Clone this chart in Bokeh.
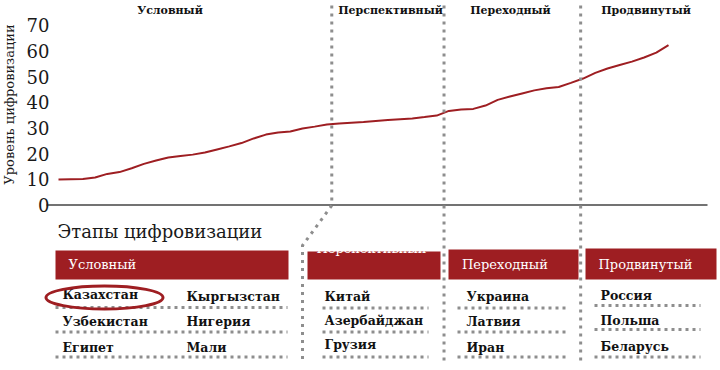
import math
from bokeh.plotting import figure
from bokeh.models import Range1d, FixedTicker, Label
from bokeh.embed import file_html
from bokeh.resources import INLINE
from bokeh.core.properties import value

# ---------------- data ----------------
# digitalisation level of countries, sorted by rank
scores = [9.9, 10.0, 10.1, 10.7, 12.1, 12.8, 14.3, 16.0, 17.3, 18.5,
          19.1, 19.6, 20.4, 21.6, 22.8, 24.1, 25.9, 27.4, 28.2, 28.6,
          29.8, 30.5, 31.3, 31.7, 32.0, 32.3, 32.7, 33.1, 33.4, 33.7,
          34.2, 34.8, 36.6, 37.2, 37.4, 38.7, 40.9, 42.2, 43.4, 44.6,
          45.4, 45.9, 47.5, 49.2, 51.4, 53.1, 54.5, 55.8, 57.4, 59.3, 62.2]
rank = list(range(len(scores)))
y_ticks = [0, 10, 20, 30, 40, 50, 60, 70]
y_label = "Уровень цифровизации"

stages = ["Условный", "Перспективный", "Переходный", "Продвинутый"]
stage_boundaries = [22.4, 31.6, 42.8]      # rank positions where stage changes

table_title = "Этапы цифровизации"
conditional = ["Казахстан", "Узбекистан", "Египет", "Кыргызстан", "Нигерия", "Мали"]
perspective = ["Китай", "Азербайджан", "Грузия"]
transitional = ["Украина", "Латвия", "Иран"]
advanced = ["Россия", "Польша", "Беларусь"]
highlighted = "Казахстан"

# ---------------- layout helpers (image pixel -> data) ----------------
X0, XS = 58.0, 12.2     # pixel of rank 0, pixels per rank
Y0, YS = 204.5, 2.57    # pixel of value 0, pixels per unit
W, H, LEFT = 720, 370, 0


def dx(px):
    return (px - X0) / XS


def dy(py):
    return (Y0 - py) / YS


RED = "#9E1E22"
GREY = "#8E8E8E"
SERIF = value("DejaVu Serif")

p = figure(width=W, height=H, output_backend="svg", toolbar_location=None,
           x_range=Range1d(dx(LEFT), dx(W)), y_range=Range1d(dy(H), dy(0)),
           x_axis_type=None, min_border_left=LEFT, min_border_right=0,
           min_border_top=0, min_border_bottom=0)
p.outline_line_color = None
p.xgrid.visible = False
p.ygrid.visible = False

ax = p.yaxis[0]
ax.ticker = FixedTicker(ticks=y_ticks)
ax.axis_line_color = None
ax.major_tick_line_color = None
ax.minor_tick_line_color = None
ax.major_label_standoff = -55
ax.major_label_text_font = "DejaVu Serif"
ax.major_label_text_font_size = "18px"
ax.major_label_text_color = "#1a1a1a"

p.add_layout(Label(x=dx(9), y=dy(104), text=y_label, angle=math.pi / 2,
                   text_font="DejaVu Serif", text_font_size="13px",
                   text_align="center", text_baseline="middle",
                   text_color="#1a1a1a"))

# baseline at 0
p.segment(x0=[dx(46)], x1=[dx(707)], y0=[y_ticks[0]], y1=[y_ticks[0]],
          line_color="#444444", line_width=1.5)

# curve
p.line(rank, scores, line_color=RED, line_width=2)

# stage names above chart
p.text(x=[dx(169.5), dx(390), dx(510), dx(645.5)], y=[dy(10)] * 4, text=stages,
       text_font=SERIF, text_font_style="bold", text_font_size="11px",
       text_align="center", text_baseline="middle", text_color="#111111")

# table title
p.text(x=[dx(57)], y=[dy(231)], text=[table_title], text_font=SERIF,
       text_font_size="18px", text_baseline="middle", text_color="#1a1a1a")

# header boxes
p.quad(left=[dx(55), dx(307), dx(448), dx(585)],
       right=[dx(288), dx(440), dx(578), dx(716)],
       top=[dy(250), dy(251), dy(249), dy(248)],
       bottom=[dy(279)] * 4, fill_color=RED, line_color=None)
p.text(x=[dx(68), dx(461.5), dx(598)], y=[dy(264)] * 3,
       text=[stages[0], stages[2], stages[3]], text_font=SERIF,
       text_font_size="13px", text_baseline="middle", text_color="white")
# clipped label of the second stage (top part hidden, white on white)
p.text(x=[dx(316)], y=[dy(248)], text=[stages[1]], text_font=SERIF,
       text_font_size="13px", text_baseline="middle", text_color="white")

# country names
cx = [dx(62)] * 3 + [dx(186)] * 3 + [dx(324)] * 3 + [dx(466)] * 3 + [dx(600)] * 3
cy = [dy(v) for v in (294, 321, 347, 296, 321, 347, 296, 320, 344,
                      296, 320.5, 347, 295, 320, 346)]
names = conditional + perspective + transitional + advanced
p.text(x=cx, y=cy, text=names, text_font=SERIF, text_font_style="bold",
       text_font_size="12.5px", text_baseline="middle", text_color="#111111")

# dotted row separators
seg_x0, seg_x1, seg_y = [], [], []
for (a, b, rows) in [(55, 287, (307, 331.5, 356.5)),
                     (322, 428, (307.5, 331.5, 356.5)),
                     (457, 566, (307.5, 331.5, 356.5)),
                     (594, 700, (305, 329, 356.5))]:
    for r in rows:
        seg_x0.append(dx(a))
        seg_x1.append(dx(b))
        seg_y.append(dy(r))
p.segment(x0=seg_x0, x1=seg_x1, y0=seg_y, y1=seg_y, line_color=GREY,
          line_width=3, line_dash="3 4")

# vertical dotted stage boundaries
p.line([stage_boundaries[0], stage_boundaries[0], dx(302), dx(302)],
       [dy(5), dy(205), dy(245), dy(360)], line_color=GREY, line_width=3,
       line_dash="3 5")
for b in stage_boundaries[1:]:
    p.line([b, b], [dy(5), dy(360)], line_color=GREY, line_width=3,
           line_dash="3 5")

# highlight ellipse
p.ellipse(x=[dx(104)], y=[dy(297)], width=117 / XS, height=23 / YS,
          fill_color=None, line_color=RED, line_width=3)

open("out.html", "w").write(file_html(p, INLINE))
